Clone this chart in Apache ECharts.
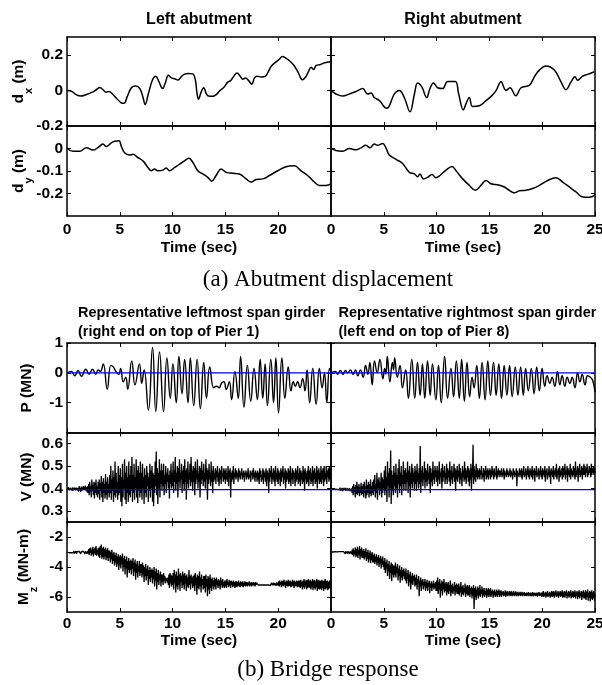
<!DOCTYPE html>
<html>
<head>
<meta charset="utf-8">
<script src="https://cdn.jsdelivr.net/npm/echarts@6/dist/echarts.min.js"></script>
<style>
  html, body { margin: 0; padding: 0; background: #fff; }
  #chart { width: 602px; height: 685px; }
</style>
</head>
<body>
<div id="chart"></div>
<script>
// ---------- Abutment displacement, [time (s), value (m)] ----------
const dxLeft = [[0,0],[0.4,-0.004],[0.9,-0.025],[1.3,-0.032],[1.8,-0.024],[2.4,-0.01],[2.8,0.005],[3.1,0.016],[3.4,0.004],[3.7,-0.01],[4.0,-0.006],[4.3,-0.02],[4.7,-0.045],[5.1,-0.068],[5.4,-0.072],[5.7,-0.035],[6.1,0.015],[6.5,0.025],[6.9,0.01],[7.2,-0.04],[7.4,-0.08],[7.7,-0.02],[8.1,0.06],[8.4,0.08],[8.7,0.05],[9.05,0.01],[9.3,0.04],[9.6,0.085],[9.9,0.07],[10.2,0.065],[10.5,0.058],[10.8,0.075],[11.1,0.09],[11.5,0.095],[11.9,0.093],[12.15,0.06],[12.3,-0.01],[12.45,-0.05],[12.7,-0.01],[12.95,0.015],[13.2,-0.02],[13.4,-0.032],[13.8,-0.033],[14.1,-0.025],[14.5,0.0],[14.9,0.02],[15.2,0.045],[15.5,0.055],[15.8,0.08],[16.1,0.098],[16.4,0.08],[16.65,0.063],[16.9,0.07],[17.2,0.055],[17.5,0.035],[17.75,0.07],[18.0,0.08],[18.4,0.075],[18.8,0.08],[19.1,0.11],[19.4,0.14],[19.8,0.16],[20.1,0.175],[20.4,0.19],[20.75,0.18],[21.1,0.165],[21.5,0.14],[21.9,0.1],[22.3,0.06],[22.6,0.075],[22.9,0.11],[23.1,0.13],[23.35,0.118],[23.6,0.14],[24.0,0.145],[24.4,0.155],[24.8,0.16],[25,0.162]];
const dxRight = [[0,0],[0.47,-0.02],[1.1,-0.032],[1.74,-0.02],[2.37,-0.006],[3.0,0.01],[3.47,-0.02],[3.8,-0.015],[4.1,-0.04],[4.58,-0.057],[5.27,-0.1],[5.5,-0.09],[6.0,-0.02],[6.47,0],[6.94,-0.04],[7.48,-0.12],[7.9,-0.02],[8.2,0.042],[8.6,0.02],[9.06,-0.04],[9.37,0.01],[9.7,0.042],[10.1,0.015],[10.57,0.01],[11.05,0.05],[11.77,0.05],[12.09,-0.02],[12.53,-0.11],[12.78,-0.076],[13.1,-0.04],[13.4,-0.09],[14.05,-0.086],[14.68,-0.057],[15.15,-0.034],[15.6,-0.004],[16.1,0.048],[16.57,0],[16.95,0.015],[17.5,-0.03],[18.0,0.015],[18.8,0.03],[19.26,0.076],[19.73,0.114],[20.36,0.137],[21.15,0.114],[21.78,0.048],[22.25,0.004],[22.73,0.048],[23.1,0.076],[23.36,0.057],[23.83,0.08],[24.3,0.09],[24.94,0.105]];
const dyLeft = [[0,0],[0.57,-0.012],[1.2,-0.012],[1.83,0.003],[2.46,-0.007],[3.09,0.01],[3.4,0.02],[3.72,0.009],[4.19,0.025],[4.5,0.032],[4.92,0.035],[5.14,0.01],[5.45,-0.019],[5.93,-0.029],[6.24,-0.026],[6.7,-0.04],[7.19,-0.055],[7.66,-0.084],[7.98,-0.099],[8.29,-0.091],[8.6,-0.099],[9.08,-0.096],[9.4,-0.087],[9.7,-0.099],[10.2,-0.084],[10.66,-0.07],[11.13,-0.055],[11.54,-0.043],[11.92,-0.062],[12.39,-0.099],[12.86,-0.113],[13.33,-0.128],[13.7,-0.145],[14.12,-0.12],[14.6,-0.091],[15.07,-0.106],[15.7,-0.11],[16.33,-0.113],[16.96,-0.135],[17.43,-0.149],[17.9,-0.138],[18.54,-0.135],[19.17,-0.12],[19.96,-0.099],[20.74,-0.081],[21.53,-0.077],[22.16,-0.099],[22.79,-0.12],[23.42,-0.149],[23.9,-0.164],[24.53,-0.164],[25,-0.157]];
const dyRight = [[0,0.003],[0.47,-0.009],[1.1,-0.012],[1.74,0],[2.37,-0.006],[2.84,0.003],[3.31,0.014],[3.69,0.003],[4.1,0.02],[4.42,0.014],[4.89,0.022],[5.2,0.003],[5.52,-0.029],[6.16,-0.048],[6.79,-0.067],[7.42,-0.106],[7.9,-0.113],[8.2,-0.125],[8.43,-0.113],[8.74,-0.135],[9.15,-0.128],[9.56,-0.116],[9.94,-0.13],[10.32,-0.12],[10.89,-0.096],[11.46,-0.08],[11.84,-0.099],[12.47,-0.135],[13.1,-0.164],[13.67,-0.186],[14.2,-0.164],[14.68,-0.142],[15.15,-0.157],[15.78,-0.161],[16.41,-0.171],[16.89,-0.186],[17.36,-0.197],[17.84,-0.188],[18.47,-0.186],[19.1,-0.178],[19.73,-0.164],[20.52,-0.142],[21.3,-0.13],[21.94,-0.149],[22.57,-0.171],[23.2,-0.193],[23.77,-0.214],[24.46,-0.217],[25,-0.207]];

// ---------- Girder axial force P (MN), [time (s), value] ----------
const pLeft = [[0,0],[0.41,0.05],[0.73,-0.1],[1.05,0.08],[1.37,-0.12],[1.78,0.12],[2.1,-0.05],[2.41,0.12],[2.73,-0.05],[2.95,0.1],[3.17,0.05],[3.43,0.3],[3.81,-0.55],[4.16,0.25],[4.38,0.2],[4.63,0.05],[4.89,-0.05],[5.08,0.15],[5.33,-0.3],[5.56,-0.15],[5.75,-0.55],[6.13,0.4],[6.44,-0.4],[6.86,0.3],[7.08,-0.35],[7.3,0.1],[7.71,-1.25],[8.1,0.85],[8.41,-1.3],[8.76,0.7],[9.14,-1.3],[9.46,0.5],[9.78,-0.85],[10.03,0.3],[10.35,-1.0],[10.6,0.55],[10.89,-0.7],[11.14,0.45],[11.46,-1.0],[11.68,0.5],[12.0,-1.1],[12.32,0.45],[12.63,-1.2],[12.95,0.35],[13.21,-0.85],[13.52,0.2],[13.9,-0.5],[14.16,-0.45],[14.41,-0.5],[14.63,-0.35],[14.86,-0.3],[15.08,-0.55],[15.37,-0.3],[15.59,-0.9],[15.9,0.05],[16.22,-0.85],[16.44,0.55],[16.76,-1.15],[17.08,0.25],[17.4,-0.95],[17.71,0.15],[18.03,-0.9],[18.29,0.45],[18.54,-0.85],[18.76,0.3],[18.98,-1.1],[19.3,0.45],[19.56,-1.0],[19.78,0.5],[20.03,-1.35],[20.35,0.5],[20.63,-0.85],[20.95,0.2],[21.21,-0.6],[21.43,-0.3],[21.62,-0.45],[21.84,-0.3],[22.06,-0.5],[22.32,-0.2],[22.54,-0.6],[22.73,0.1],[22.98,-1.0],[23.27,0.15],[23.59,-1.05],[23.9,0.15],[24.16,-0.5],[24.38,0.0],[24.6,-1.0],[24.86,0.15],[25,0.0]];
const pRight = [[0,0],[0.41,0.05],[0.63,-0.05],[0.89,0.08],[1.14,-0.05],[1.36,0.08],[1.59,0],[1.84,0.1],[2.09,-0.05],[2.32,0.1],[2.54,-0.1],[2.79,0.1],[3.05,-0.15],[3.27,0.25],[3.49,-0.05],[3.68,0.35],[3.9,-0.4],[4.12,0.4],[4.38,0.0],[4.63,0.45],[4.92,-0.2],[5.08,0.15],[5.2,-0.05],[5.33,0.55],[5.58,-0.3],[5.81,0.35],[5.92,0.1],[6.03,0.5],[6.28,-0.15],[6.54,0.25],[6.76,-0.5],[7.07,0.1],[7.33,-0.85],[7.65,0.45],[7.93,-0.85],[8.19,0.35],[8.44,-0.75],[8.66,0.3],[8.88,-0.85],[9.14,0.4],[9.39,-0.75],[9.61,0.3],[9.93,-0.9],[10.18,0.25],[10.44,-1.0],[10.76,0.55],[11.04,-0.85],[11.36,0.15],[11.61,-0.8],[11.87,0.4],[12.15,-0.85],[12.37,0.45],[12.63,-0.95],[12.88,0.35],[13.13,-0.8],[13.36,-0.15],[13.55,-0.5],[13.8,0.25],[14.05,-0.85],[14.31,0.35],[14.59,-0.9],[14.85,0.4],[15.1,-0.75],[15.39,0.35],[15.64,-0.75],[15.89,0.3],[16.15,-0.85],[16.4,0.25],[16.66,-0.75],[16.91,0.25],[17.16,-0.8],[17.45,0.2],[17.7,-0.75],[17.96,0.2],[18.21,-0.75],[18.43,0.15],[18.69,-0.6],[18.97,0.15],[19.23,-0.7],[19.48,0.2],[19.73,-0.6],[19.99,0.15],[20.24,-0.45],[20.46,-0.1],[20.72,-0.35],[20.94,-0.15],[21.19,-0.45],[21.45,0.05],[21.67,-0.4],[21.89,-0.1],[22.14,-0.45],[22.37,-0.15],[22.62,-0.35],[22.84,-0.15],[23.1,-0.5],[23.35,0.0],[23.57,-0.3],[23.79,-0.05],[24.05,-0.4],[24.3,-0.1],[24.56,-0.15],[24.78,-0.25],[25,-0.65]];
const pStatic = 0;

// ---------- Shear V (MN) and moment Mz (MN-m), one row per second, sampled every 0.05 s ----------
const sampleStep = 0.05;
const vLeft = [
  0.395,0.40,0.39,0.405,0.392,0.398,0.388,0.402,0.394,0.40,0.39,0.405,0.392,0.398,0.387,0.404,0.393,0.40,0.389,0.403,
  0.391,0.40,0.386,0.41,0.392,0.402,0.385,0.408,0.39,0.398,0.384,0.41,0.393,0.40,0.386,0.412,0.39,0.405,0.383,0.41,
  0.38,0.42,0.37,0.43,0.385,0.41,0.36,0.44,0.39,0.415,0.37,0.43,0.355,0.425,0.38,0.44,0.37,0.41,0.36,0.43,
  0.375,0.44,0.35,0.425,0.39,0.455,0.36,0.43,0.34,0.445,0.38,0.42,0.355,0.465,0.37,0.43,0.35,0.45,0.38,0.42,
  0.36,0.46,0.38,0.50,0.35,0.44,0.39,0.48,0.34,0.45,0.37,0.52,0.36,0.47,0.38,0.43,0.35,0.50,0.37,0.46,
  0.38,0.49,0.34,0.45,0.32,0.51,0.36,0.44,0.40,0.53,0.35,0.47,0.33,0.50,0.38,0.45,0.34,0.52,0.37,0.46,
  0.36,0.50,0.39,0.54,0.34,0.46,0.38,0.51,0.35,0.45,0.40,0.53,0.36,0.48,0.335,0.50,0.39,0.47,0.36,0.52,
  0.38,0.47,0.35,0.51,0.40,0.45,0.33,0.49,0.38,0.46,0.36,0.50,0.41,0.47,0.34,0.45,0.39,0.51,0.36,0.48,
  0.40,0.50,0.34,0.47,0.32,0.46,0.38,0.52,0.41,0.565,0.37,0.49,0.33,0.47,0.40,0.53,0.36,0.48,0.42,0.51,
  0.39,0.48,0.41,0.51,0.37,0.46,0.42,0.50,0.38,0.47,0.43,0.49,0.40,0.46,0.355,0.48,0.42,0.51,0.40,0.47,
  0.41,0.52,0.38,0.48,0.43,0.54,0.39,0.47,0.42,0.50,0.36,0.49,0.43,0.53,0.40,0.47,0.44,0.51,0.38,0.48,
  0.42,0.50,0.39,0.53,0.43,0.48,0.35,0.49,0.42,0.52,0.40,0.47,0.44,0.51,0.41,0.54,0.43,0.48,0.39,0.50,
  0.43,0.49,0.37,0.52,0.42,0.48,0.44,0.53,0.40,0.47,0.43,0.50,0.36,0.49,0.42,0.52,0.44,0.48,0.41,0.51,
  0.43,0.47,0.40,0.53,0.44,0.49,0.35,0.48,0.42,0.51,0.44,0.47,0.41,0.52,0.43,0.48,0.38,0.50,0.43,0.47,
  0.44,0.49,0.42,0.48,0.45,0.50,0.43,0.47,0.41,0.49,0.44,0.48,0.42,0.50,0.45,0.47,0.43,0.49,0.44,0.48,
  0.42,0.49,0.44,0.47,0.43,0.50,0.41,0.48,0.45,0.49,0.36,0.47,0.43,0.48,0.44,0.50,0.42,0.47,0.45,0.49,
  0.44,0.48,0.45,0.47,0.43,0.49,0.45,0.48,0.44,0.47,0.46,0.49,0.44,0.47,0.45,0.48,0.43,0.47,0.46,0.48,
  0.44,0.47,0.45,0.49,0.44,0.46,0.45,0.48,0.43,0.47,0.46,0.48,0.44,0.49,0.45,0.47,0.43,0.48,0.45,0.47,
  0.43,0.48,0.44,0.47,0.42,0.49,0.45,0.48,0.43,0.46,0.44,0.49,0.42,0.48,0.45,0.47,0.43,0.49,0.41,0.48,
  0.44,0.47,0.38,0.49,0.43,0.48,0.45,0.50,0.42,0.47,0.44,0.49,0.43,0.48,0.41,0.50,0.44,0.47,0.43,0.49,
  0.42,0.48,0.44,0.47,0.41,0.49,0.43,0.48,0.45,0.50,0.42,0.47,0.44,0.49,0.40,0.48,0.43,0.47,0.44,0.49,
  0.42,0.48,0.43,0.50,0.41,0.47,0.44,0.49,0.42,0.48,0.45,0.47,0.41,0.49,0.43,0.48,0.44,0.50,0.42,0.47,
  0.43,0.49,0.41,0.48,0.44,0.47,0.42,0.50,0.43,0.48,0.39,0.49,0.44,0.47,0.42,0.48,0.43,0.50,0.41,0.48,
  0.44,0.49,0.42,0.47,0.43,0.50,0.41,0.48,0.44,0.49,0.42,0.47,0.43,0.50,0.40,0.48,0.44,0.49,0.42,0.47,
  0.43,0.50,0.42,0.48,0.44,0.49,0.41,0.50,0.43,0.47,0.44,0.50,0.42,0.48,0.45,0.49,0.43,0.50,0.44,0.48,
  0.46
];
const vRight = [
  0.40,0.405,0.395,0.402,0.398,0.404,0.393,0.401,0.397,0.405,0.392,0.40,0.396,0.403,0.391,0.40,0.395,0.404,0.39,0.398,
  0.393,0.401,0.388,0.403,0.392,0.399,0.386,0.402,0.39,0.398,0.385,0.401,0.39,0.397,0.384,0.40,0.388,0.396,0.383,0.399,
  0.38,0.41,0.37,0.42,0.385,0.405,0.36,0.415,0.375,0.43,0.37,0.41,0.38,0.42,0.365,0.405,0.38,0.425,0.37,0.41,
  0.375,0.42,0.36,0.43,0.38,0.41,0.355,0.44,0.37,0.415,0.38,0.43,0.36,0.42,0.375,0.44,0.365,0.41,0.38,0.43,
  0.37,0.44,0.39,0.46,0.36,0.42,0.38,0.47,0.35,0.44,0.40,0.45,0.37,0.43,0.39,0.47,0.36,0.45,0.38,0.44,
  0.40,0.48,0.37,0.50,0.39,0.45,0.34,0.52,0.41,0.47,0.36,0.49,0.40,0.57,0.33,0.48,0.39,0.46,0.37,0.50,
  0.41,0.47,0.38,0.51,0.40,0.46,0.36,0.49,0.42,0.53,0.38,0.47,0.41,0.50,0.37,0.46,0.42,0.52,0.39,0.48,
  0.42,0.49,0.39,0.47,0.43,0.52,0.38,0.48,0.41,0.50,0.36,0.47,0.42,0.51,0.40,0.49,0.43,0.47,0.39,0.50,
  0.42,0.48,0.39,0.51,0.43,0.47,0.40,0.49,0.42,0.59,0.38,0.48,0.43,0.50,0.41,0.47,0.44,0.52,0.40,0.49,
  0.43,0.48,0.41,0.51,0.44,0.47,0.42,0.50,0.38,0.49,0.43,0.47,0.41,0.52,0.44,0.48,0.42,0.50,0.45,0.48,
  0.43,0.50,0.41,0.48,0.44,0.52,0.42,0.47,0.45,0.49,0.40,0.51,0.43,0.48,0.45,0.50,0.42,0.47,0.44,0.51,
  0.42,0.49,0.45,0.48,0.43,0.52,0.41,0.48,0.44,0.50,0.42,0.47,0.45,0.51,0.43,0.49,0.39,0.48,0.44,0.50,
  0.43,0.48,0.45,0.51,0.42,0.49,0.44,0.47,0.41,0.50,0.45,0.48,0.43,0.52,0.44,0.49,0.42,0.48,0.45,0.50,
  0.43,0.49,0.41,0.48,0.44,0.51,0.39,0.49,0.45,0.595,0.42,0.50,0.44,0.48,0.43,0.51,0.45,0.49,0.44,0.48,
  0.45,0.49,0.44,0.48,0.46,0.50,0.44,0.47,0.45,0.49,0.43,0.48,0.46,0.50,0.44,0.48,0.45,0.49,0.44,0.48,
  0.46,0.49,0.44,0.48,0.45,0.50,0.46,0.48,0.44,0.49,0.45,0.47,0.46,0.50,0.44,0.48,0.45,0.49,0.46,0.48,
  0.45,0.48,0.46,0.49,0.45,0.47,0.46,0.49,0.44,0.48,0.46,0.47,0.45,0.49,0.46,0.48,0.45,0.47,0.46,0.49,
  0.45,0.48,0.46,0.47,0.44,0.49,0.46,0.48,0.45,0.47,0.46,0.49,0.41,0.48,0.46,0.47,0.45,0.49,0.46,0.48,
  0.45,0.49,0.44,0.48,0.46,0.50,0.45,0.47,0.46,0.49,0.44,0.48,0.46,0.50,0.45,0.48,0.44,0.49,0.46,0.48,
  0.45,0.50,0.44,0.48,0.46,0.49,0.43,0.48,0.46,0.50,0.45,0.47,0.46,0.49,0.44,0.48,0.46,0.50,0.45,0.48,
  0.44,0.49,0.46,0.48,0.45,0.50,0.43,0.48,0.46,0.49,0.44,0.47,0.46,0.50,0.45,0.48,0.42,0.49,0.46,0.48,
  0.45,0.50,0.44,0.48,0.46,0.49,0.45,0.51,0.44,0.48,0.46,0.49,0.43,0.50,0.45,0.48,0.46,0.49,0.44,0.50,
  0.45,0.49,0.46,0.51,0.44,0.48,0.46,0.50,0.43,0.49,0.46,0.48,0.45,0.51,0.44,0.49,0.46,0.48,0.45,0.50,
  0.46,0.49,0.44,0.52,0.45,0.48,0.46,0.50,0.43,0.49,0.46,0.51,0.45,0.48,0.46,0.50,0.44,0.49,0.46,0.51,
  0.46,0.50,0.45,0.49,0.47,0.51,0.45,0.48,0.46,0.50,0.47,0.49,0.45,0.51,0.46,0.49,0.47,0.50,0.46,0.49,
  0.47
];
const vStatic = 0.395;
const mzLeft = [
  -3.0,-2.95,-3.08,-2.97,-3.05,-2.93,-3.1,-2.98,-3.04,-2.95,-3.09,-2.96,-3.06,-2.92,-3.1,-2.97,-3.05,-2.94,-3.12,-2.98,
  -3.04,-2.93,-3.1,-2.96,-3.05,-2.9,-3.12,-2.97,-3.06,-2.92,-3.1,-2.95,-3.07,-2.9,-3.13,-2.96,-3.05,-2.91,-3.11,-2.95,
  -3.1,-2.8,-3.2,-2.75,-3.05,-2.7,-3.25,-2.85,-3.15,-2.65,-3.3,-2.8,-3.1,-2.7,-3.2,-2.6,-3.25,-2.85,-3.15,-2.75,
  -3.3,-2.7,-3.4,-2.6,-3.2,-2.5,-3.45,-2.75,-3.35,-2.65,-3.5,-2.8,-3.3,-2.7,-3.55,-2.85,-3.4,-2.75,-3.6,-2.9,
  -3.4,-2.9,-3.7,-3.0,-3.5,-2.85,-3.8,-3.1,-3.6,-3.0,-3.9,-3.2,-3.7,-3.05,-4.0,-3.3,-3.8,-3.15,-4.2,-3.3,
  -3.9,-3.2,-4.1,-3.3,-3.8,-3.1,-4.3,-3.4,-4.0,-3.25,-4.5,-3.5,-4.1,-3.3,-4.7,-3.6,-4.2,-3.4,-4.4,-3.6,
  -4.2,-3.5,-4.5,-3.6,-4.1,-3.4,-4.6,-3.7,-4.3,-3.5,-4.85,-3.8,-4.4,-3.6,-4.7,-3.9,-4.3,-3.6,-4.6,-3.8,
  -4.4,-3.8,-4.7,-3.7,-4.5,-3.9,-5.0,-4.0,-4.6,-3.8,-4.9,-4.1,-4.6,-3.9,-5.2,-4.2,-4.8,-4.0,-5.0,-4.2,
  -4.7,-4.1,-5.1,-4.2,-4.8,-4.0,-5.3,-4.3,-4.9,-4.1,-5.5,-4.4,-5.0,-4.2,-5.2,-4.5,-4.9,-4.3,-5.3,-4.5,
  -5.0,-4.5,-5.2,-4.4,-4.9,-4.6,-5.1,-4.7,-4.95,-4.75,-5.05,-4.7,-5.2,-4.5,-5.4,-4.4,-5.1,-4.5,-5.3,-4.6,
  -5.2,-4.4,-5.5,-4.2,-5.1,-4.5,-5.7,-4.3,-5.3,-4.6,-5.5,-4.1,-5.2,-4.5,-5.6,-4.4,-5.0,-4.6,-5.4,-4.3,
  -5.2,-4.5,-5.5,-4.4,-5.1,-4.6,-5.6,-4.5,-5.3,-4.7,-5.4,-4.2,-5.2,-4.6,-5.5,-4.5,-5.1,-4.7,-5.4,-4.6,
  -5.3,-4.5,-5.6,-4.4,-5.2,-4.7,-5.85,-4.5,-5.4,-4.6,-5.5,-4.3,-5.3,-4.7,-5.7,-4.5,-5.2,-4.8,-5.5,-4.6,
  -5.4,-4.6,-5.7,-4.5,-5.3,-4.8,-5.95,-4.6,-5.5,-4.7,-5.8,-4.5,-5.4,-4.8,-5.6,-4.7,-5.3,-4.9,-5.5,-4.7,
  -5.3,-4.8,-5.5,-4.7,-5.2,-4.9,-5.4,-4.8,-5.3,-4.9,-5.5,-4.7,-5.2,-4.9,-5.4,-4.8,-5.3,-5.0,-5.4,-4.9,
  -5.3,-4.9,-5.4,-4.8,-5.2,-5.0,-5.35,-4.85,-5.25,-4.95,-5.4,-4.9,-5.2,-5.0,-5.35,-4.9,-5.25,-5.0,-5.4,-4.95,
  -5.3,-4.95,-5.35,-5.0,-5.25,-4.9,-5.3,-5.05,-5.35,-4.95,-5.25,-5.0,-5.3,-4.95,-5.35,-5.05,-5.25,-4.95,-5.3,-5.0,
  -5.25,-5.0,-5.3,-5.05,-5.2,-4.95,-5.3,-5.05,-5.25,-5.0,-5.3,-5.05,-5.2,-5.0,-5.25,-5.05,-5.3,-5.0,-5.2,-5.05,
  -5.15,-5.08,-5.2,-5.1,-5.17,-5.08,-5.2,-5.12,-5.16,-5.1,-5.2,-5.08,-5.18,-5.12,-5.2,-5.1,-5.15,-5.08,-5.2,-5.1,
  -5.18,-5.1,-5.2,-5.08,-5.17,-5.1,-5.22,-5.06,-5.18,-5.1,-5.2,-5.05,-5.22,-5.08,-5.18,-5.05,-5.25,-5.02,-5.22,-5.05,
  -5.25,-4.95,-5.3,-4.9,-5.2,-5.0,-5.35,-4.9,-5.25,-4.95,-5.3,-4.85,-5.2,-5.0,-5.4,-4.9,-5.25,-4.95,-5.3,-4.85,
  -5.3,-4.95,-5.25,-4.9,-5.35,-5.0,-5.3,-4.85,-5.25,-4.95,-5.4,-4.9,-5.3,-5.0,-5.25,-4.9,-5.35,-4.95,-5.3,-4.9,
  -5.35,-4.9,-5.4,-4.85,-5.3,-5.0,-5.5,-4.9,-5.35,-4.8,-5.45,-4.95,-5.3,-4.85,-5.5,-4.9,-5.4,-4.8,-5.35,-4.9,
  -5.4,-4.85,-5.5,-4.95,-5.35,-4.8,-5.55,-4.9,-5.4,-4.85,-5.5,-4.95,-5.35,-4.8,-5.6,-4.9,-5.45,-4.85,-5.5,-4.95,
  -5.45,-4.9,-5.55,-4.85,-5.4,-4.95,-5.6,-4.9,-5.45,-4.8,-5.5,-4.95,-5.4,-4.9,-5.55,-5.0,-5.45,-4.9,-5.4,-5.0,
  -5.3
];
const mzRight = [
  -3.0,-3.05,-2.97,-3.08,-3.0,-3.04,-2.95,-3.1,-2.98,-3.05,-2.96,-3.1,-2.99,-3.04,-2.94,-3.08,-2.97,-3.06,-2.95,-3.1,
  -2.98,-3.07,-2.94,-3.1,-2.97,-3.05,-2.93,-3.12,-2.96,-3.06,-2.92,-3.1,-2.95,-3.05,-2.9,-3.13,-2.96,-3.07,-2.9,-3.12,
  -2.85,-3.2,-2.75,-3.3,-2.9,-3.15,-2.7,-3.35,-2.8,-3.25,-2.65,-3.4,-2.85,-3.2,-2.6,-3.5,-2.8,-3.3,-2.7,-3.4,
  -2.9,-3.4,-2.8,-3.5,-2.95,-3.35,-2.75,-3.6,-3.0,-3.45,-2.85,-3.7,-3.05,-3.5,-2.9,-3.75,-3.1,-3.55,-3.0,-3.7,
  -3.2,-3.7,-3.1,-3.8,-3.3,-3.65,-3.15,-3.9,-3.35,-3.75,-3.2,-4.0,-3.4,-3.8,-3.25,-4.1,-3.45,-3.85,-3.3,-4.0,
  -3.6,-4.2,-3.4,-4.4,-3.7,-4.1,-3.5,-4.6,-3.8,-4.3,-3.6,-4.8,-3.9,-4.4,-3.7,-4.95,-3.8,-4.5,-3.9,-4.7,
  -3.9,-4.5,-3.7,-4.7,-4.0,-4.4,-3.8,-4.9,-4.1,-4.6,-3.9,-5.05,-4.2,-4.7,-4.0,-4.9,-4.2,-4.6,-4.1,-4.8,
  -4.3,-4.9,-4.1,-5.1,-4.4,-4.8,-4.2,-5.3,-4.5,-5.0,-4.3,-5.5,-4.6,-5.1,-4.4,-5.2,-4.6,-4.9,-4.5,-5.3,
  -4.7,-5.2,-4.5,-5.5,-4.8,-5.1,-4.6,-5.95,-4.9,-5.3,-4.7,-5.6,-4.9,-5.2,-4.8,-5.5,-5.0,-5.3,-4.8,-5.6,
  -5.0,-5.4,-4.85,-5.6,-5.05,-5.3,-4.9,-5.75,-5.1,-5.4,-4.95,-5.6,-5.1,-5.35,-4.9,-5.5,-5.1,-5.4,-5.0,-5.6,
  -4.9,-5.6,-4.7,-5.8,-5.0,-5.5,-4.8,-6.05,-5.1,-5.6,-4.9,-5.9,-5.0,-5.5,-4.8,-5.7,-5.1,-5.6,-5.0,-5.9,
  -5.1,-5.7,-5.0,-5.8,-5.2,-5.6,-4.9,-5.95,-5.2,-5.7,-5.1,-5.8,-5.3,-5.6,-5.0,-5.9,-5.2,-5.7,-5.1,-5.8,
  -5.2,-5.8,-5.1,-5.9,-5.3,-5.7,-5.0,-6.0,-5.3,-5.8,-5.2,-5.9,-5.4,-5.7,-5.1,-6.0,-5.3,-5.8,-5.2,-5.9,
  -5.3,-5.9,-5.2,-6.0,-5.4,-5.8,-5.3,-6.1,-5.4,-5.9,-5.2,-6.8,-5.4,-6.0,-5.3,-6.2,-5.5,-5.9,-5.3,-6.1,
  -5.4,-5.9,-5.2,-6.0,-5.5,-5.8,-5.3,-6.05,-5.5,-5.9,-5.4,-6.0,-5.6,-5.85,-5.4,-6.05,-5.5,-5.9,-5.4,-6.0,
  -5.5,-5.9,-5.4,-6.0,-5.6,-5.85,-5.5,-6.05,-5.6,-5.9,-5.5,-6.0,-5.65,-5.9,-5.5,-6.0,-5.6,-5.85,-5.5,-6.0,
  -5.6,-5.9,-5.55,-6.0,-5.65,-5.85,-5.6,-5.95,-5.7,-5.9,-5.55,-6.0,-5.65,-5.9,-5.6,-5.95,-5.7,-5.85,-5.6,-5.95,
  -5.65,-5.9,-5.6,-5.95,-5.7,-5.85,-5.6,-5.95,-5.7,-5.88,-5.62,-5.95,-5.7,-5.9,-5.65,-5.95,-5.72,-5.88,-5.65,-5.95,
  -5.7,-5.9,-5.65,-5.95,-5.72,-5.88,-5.68,-5.95,-5.75,-5.9,-5.7,-5.95,-5.72,-5.88,-5.68,-5.95,-5.75,-5.9,-5.7,-5.96,
  -5.72,-5.9,-5.68,-5.96,-5.74,-5.88,-5.7,-5.95,-5.76,-5.9,-5.7,-5.98,-5.72,-5.9,-5.68,-5.95,-5.75,-5.9,-5.7,-6.0,
  -5.7,-5.95,-5.6,-6.0,-5.75,-5.9,-5.65,-6.05,-5.7,-5.95,-5.6,-6.0,-5.75,-5.9,-5.65,-6.05,-5.7,-5.95,-5.6,-6.0,
  -5.65,-5.95,-5.6,-6.05,-5.7,-5.9,-5.55,-6.0,-5.7,-5.95,-5.6,-6.05,-5.7,-5.9,-5.6,-6.0,-5.65,-5.95,-5.55,-6.05,
  -5.7,-6.0,-5.6,-6.05,-5.65,-5.9,-5.55,-6.1,-5.7,-5.95,-5.6,-6.05,-5.65,-5.95,-5.55,-6.1,-5.7,-6.0,-5.6,-6.05,
  -5.65,-6.0,-5.55,-6.1,-5.7,-5.95,-5.6,-6.15,-5.65,-6.0,-5.55,-6.1,-5.7,-5.95,-5.6,-6.2,-5.65,-6.0,-5.55,-6.1,
  -5.7,-6.1,-5.55,-6.2,-5.65,-6.0,-5.5,-6.25,-5.7,-6.05,-5.6,-6.3,-5.65,-6.1,-5.55,-6.2,-5.7,-6.05,-5.6,-6.25,
  -5.8
];

// ---------- Axis ticks ----------
const timeRange = [0, 25];
const timeTicks = [0, 5, 10, 15, 20, 25];
const dxTicks = [-0.2, 0, 0.2];
const dyTicks = [-0.2, -0.1, 0];
const pTicks = [-1, 0, 1];
const vTicks = [0.3, 0.4, 0.5, 0.6];
const mzTicks = [-6, -4, -2];

// ---------- Layout ----------
const SANS = "'Liberation Sans', Arial, Helvetica, sans-serif";
const SERIF = "'Liberation Serif', 'Times New Roman', serif";
const panelW = 264, colX = [67, 331];
const rows = [
  { top: 37,    height: 89,   min: -0.2, max: 0.3,  ticks: dxTicks, xLabels: false },
  { top: 126,   height: 90,   min: -0.3, max: 0.1,  ticks: dyTicks, xLabels: true, xMargin: 6 },
  { top: 343,   height: 89.5, min: -2,   max: 1,    ticks: pTicks,  xLabels: false },
  { top: 432.5, height: 89.5, min: 0.25, max: 0.65, ticks: vTicks,  xLabels: false },
  { top: 522,   height: 90,   min: -7,   max: -1,   ticks: mzTicks, xLabels: true, xMargin: 3.5 }
];

const tickFont = { color: '#000', fontFamily: SANS, fontWeight: 'bold', fontSize: 15.5 };
const frame = { show: true, onZero: false, lineStyle: { color: '#000', width: 1.5 } };
const tickStyle = { show: true, inside: true, length: 4, lineStyle: { color: '#000', width: 1 } };

const grid = [], xAxis = [], yAxis = [];
rows.forEach(r => {
  colX.forEach((left, ci) => {
    const g = grid.length;
    grid.push({ left, top: r.top, width: panelW, height: r.height, containLabel: false, outerBoundsMode: 'none' });
    xAxis.push({
      gridIndex: g, type: 'value', min: timeRange[0], max: timeRange[1], position: 'bottom',
      axisLine: frame, axisTick: Object.assign({ customValues: timeTicks }, tickStyle),
      axisLabel: Object.assign({ show: r.xLabels, margin: r.xMargin || 4,
        customValues: ci ? timeTicks : timeTicks.slice(0, -1) }, tickFont),
      splitLine: { show: false }
    });
    xAxis.push({
      gridIndex: g, type: 'value', min: timeRange[0], max: timeRange[1], position: 'top',
      axisLine: frame, axisTick: Object.assign({ customValues: timeTicks }, tickStyle),
      axisLabel: { show: false }, splitLine: { show: false }
    });
    yAxis.push({
      gridIndex: g, type: 'value', min: r.min, max: r.max, position: 'left',
      axisLine: frame, axisTick: Object.assign({ customValues: r.ticks }, tickStyle),
      axisLabel: Object.assign({ show: ci === 0, margin: 4, customValues: r.ticks }, tickFont),
      splitLine: { show: false }
    });
    yAxis.push({
      gridIndex: g, type: 'value', min: r.min, max: r.max, position: 'right',
      axisLine: frame, axisTick: Object.assign({ customValues: r.ticks }, tickStyle),
      axisLabel: { show: false }, splitLine: { show: false }
    });
  });
});

const sampled = vals => vals.map((v, i) => [+(i * sampleStep).toFixed(2), v]);
const flat = v => [[timeRange[0], v], [timeRange[1], v]];

function line(g, data, extra) {
  return Object.assign({
    type: 'line', xAxisIndex: 2 * g, yAxisIndex: 2 * g, data,
    symbol: 'none', showSymbol: false, silent: true, clip: true, animation: false,
    lineStyle: { color: '#000', width: 1.3 }
  }, extra || {});
}
const smoothLine = { smooth: 0.4, lineStyle: { color: '#000', width: 1.5 } };
const waveLine = { smooth: 0.5, lineStyle: { color: '#000', width: 1.4 } };
const refLine = { lineStyle: { color: '#0000ff', width: 1.2 }, z: 5 };

const series = [
  line(0, dxLeft, smoothLine), line(1, dxRight, smoothLine),
  line(2, dyLeft, smoothLine), line(3, dyRight, smoothLine),
  line(4, pLeft, waveLine), line(5, pRight, waveLine),
  line(4, flat(pStatic), refLine), line(5, flat(pStatic), refLine),
  line(6, sampled(vLeft)), line(7, sampled(vRight)),
  line(6, flat(vStatic), refLine), line(7, flat(vStatic), refLine),
  line(8, sampled(mzLeft)), line(9, sampled(mzRight))
];

// ---------- Text ----------
function txt(text, x, y, style) {
  return { type: 'text', x, y, silent: true,
    style: Object.assign({ text, fill: '#000', fontFamily: SANS, fontWeight: 'bold', fontSize: 15.5,
      align: 'center', verticalAlign: 'middle' }, style || {}) };
}
const measure = document.createElement('canvas').getContext('2d');
function widthOf(s, size) { measure.font = 'bold ' + size + 'px ' + SANS; return measure.measureText(s).width; }
// Vertical axis title; parts flagged true are drawn as subscripts
function yTitle(cx, cy, parts) {
  const sizes = parts.map(p => p[1] ? 11 : 15.5);
  const widths = parts.map((p, i) => widthOf(p[0], sizes[i]));
  let x = -widths.reduce((a, b) => a + b, 0) / 2;
  const children = parts.map((p, i) => {
    const el = { type: 'text', x, y: p[1] ? 10 : 0, silent: true,
      style: { text: p[0], fill: '#000', fontFamily: SANS, fontWeight: 'bold', fontSize: sizes[i],
        align: 'left', verticalAlign: 'middle' } };
    x += widths[i];
    return el;
  });
  return { type: 'group', x: cx, y: cy, rotation: Math.PI / 2, children };
}

const graphic = [
  txt('Left abutment', 199, 20, { fontSize: 16 }),
  txt('Right abutment', 463, 20, { fontSize: 16 }),
  txt('Time (sec)', 199, 247.5),
  txt('Time (sec)', 463, 247.5),
  txt('(a) Abutment displacement', 328, 280, { fontFamily: SERIF, fontWeight: 'normal', fontSize: 23 }),
  txt('Representative leftmost span girder', 78, 313, { align: 'left', fontSize: 14.5 }),
  txt('(right end on top of Pier 1)', 78, 332, { align: 'left', fontSize: 14.5 }),
  txt('Representative rightmost span girder', 338.5, 313, { align: 'left', fontSize: 14.5 }),
  txt('(left end on top of Pier 8)', 338.5, 332, { align: 'left', fontSize: 14.5 }),
  txt('Time (sec)', 199, 640.5),
  txt('Time (sec)', 463, 640.5),
  txt('(b) Bridge response', 328, 670, { fontFamily: SERIF, fontWeight: 'normal', fontSize: 23 }),
  yTitle(18.5, 81.5, [['d', false], ['x', true], [' (m)', false]]),
  yTitle(18.5, 171, [['d', false], ['y', true], [' (m)', false]]),
  yTitle(27, 388, [['P (MN)', false]]),
  yTitle(27, 477, [['V (MN)', false]]),
  yTitle(23.5, 567, [['M', false], ['z', true], [' (MN-m)', false]])
];

const chart = echarts.init(document.getElementById('chart'), null, { renderer: 'canvas' });
chart.setOption({
  animation: false,
  backgroundColor: '#fff',
  grid, xAxis, yAxis, series, graphic
});
</script>
</body>
</html>
